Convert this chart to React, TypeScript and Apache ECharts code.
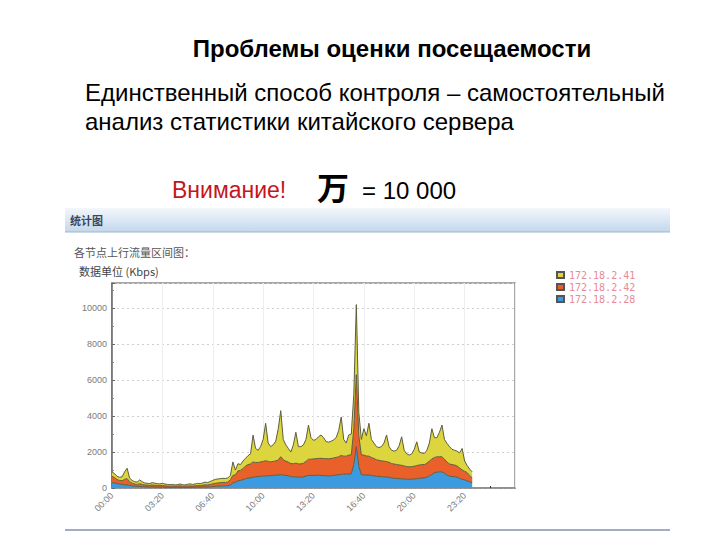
import React, { useEffect, useRef } from "react";
import * as echarts from "echarts";

// Time slots every 10 minutes; axis runs to 26:40 (as in the screenshot), data to 23:50
const stepMinutes = 10;
const axisSlots = 161;
const seriesNames = ["172.18.2.28", "172.18.2.42", "172.18.2.41"];
const legendOrder = ["172.18.2.41", "172.18.2.42", "172.18.2.28"];
const yTicks = [0, 2000, 4000, 6000, 8000, 10000];

// Blue layer (172.18.2.28), Kbps
const blueValues = [
  300, 280, 250, 220, 200, 180, 170, 150, 120, 100,
  90, 90, 80, 70, 60, 60, 60, 50, 50, 50,
  50, 40, 40, 40, 40, 40, 40, 40, 40, 40,
  40, 40, 40, 50, 50, 50, 60, 60, 60, 70,
  80, 90, 100, 110, 120, 120, 130, 180, 280, 330,
  400, 420, 460, 520, 550, 560, 600, 620, 640, 650,
  660, 670, 680, 690, 700, 710, 720, 740, 720, 700,
  680, 640, 620, 620, 600, 600, 620, 660, 700, 700,
  700, 700, 710, 700, 690, 680, 670, 680, 700, 720,
  740, 760, 770, 770, 780, 790, 1300, 2300, 1200, 740,
  730, 720, 720, 700, 680, 650, 640, 630, 620, 610,
  600, 560, 540, 530, 520, 510, 500, 490, 480, 490,
  500, 520, 540, 550, 560, 600, 680, 750, 850, 880,
  900, 900, 820, 720, 660, 640, 630, 600, 540, 480,
  450, 400, 340, 300,
];

// Orange layer (172.18.2.42), Kbps
const orangeValues = [
  350, 300, 220, 200, 200, 300, 350, 200, 150, 120,
  110, 150, 120, 100, 100, 90, 110, 100, 90, 80,
  90, 80, 70, 60, 70, 60, 70, 80, 60, 60,
  70, 80, 70, 70, 90, 80, 100, 120, 110, 130,
  150, 170, 180, 190, 190, 190, 200, 280, 420, 400,
  550, 560, 620, 700, 750, 780, 850, 800, 780, 800,
  820, 850, 800, 760, 780, 800, 830, 1000, 850, 800,
  760, 720, 730, 760, 740, 740, 760, 820, 900, 900,
  920, 930, 940, 950, 950, 950, 960, 960, 970, 980,
  1000, 1050, 1000, 1000, 1050, 1050, 2000, 4000, 1700, 1100,
  1100, 1060, 1050, 1000, 960, 920, 900, 880, 870, 860,
  830, 800, 790, 780, 760, 750, 720, 700, 700, 700,
  710, 730, 740, 750, 740, 780, 820, 860, 850, 850,
  840, 840, 780, 720, 680, 660, 650, 620, 580, 520,
  480, 460, 360, 250,
];

// Yellow layer (172.18.2.41), Kbps
const yellowValues = [
  250, 220, 180, 180, 220, 420, 580, 200, 150, 130,
  130, 210, 150, 110, 100, 100, 130, 120, 100, 100,
  120, 100, 90, 80, 90, 70, 80, 100, 80, 70,
  100, 110, 90, 100, 120, 110, 120, 150, 130, 160,
  190, 220, 220, 220, 230, 220, 230, 240, 750, 270,
  400, 320, 420, 430, 500, 560, 1490, 780, 680, 850,
  1220, 2080, 1020, 850, 920, 1090, 1750, 2560, 1130, 900,
  760, 640, 1050, 1720, 960, 960, 1020, 1220, 1900, 1200,
  1030, 1070, 1200, 1300, 1160, 950, 920, 960, 1010, 1100,
  1460, 2140, 930, 730, 1120, 1160, 1900, 3900, 1300, 860,
  1470, 1120, 1830, 1000, 860, 730, 710, 790, 1010, 1480,
  870, 740, 720, 790, 1070, 1590, 880, 710, 650, 710,
  940, 1320, 720, 650, 620, 720, 1000, 1690, 1100, 1070,
  1360, 1760, 1100, 1040, 960, 850, 820, 830, 830, 1200,
  570, 390, 350, 350,
];

const layerColors = ["#3c9be0", "#e9602b", "#dcd53e"];
const outlineColor = "#5e5d3e";

function fmtTime(m: number): string {
  const h = Math.floor(m / 60);
  const mm = m % 60;
  return String(h).padStart(2, "0") + ":" + String(mm).padStart(2, "0");
}

export default function App() {
  const ref = useRef<HTMLDivElement>(null);

  useEffect(() => {
    if (!ref.current) return;
    const chart = echarts.init(ref.current, undefined, { renderer: "svg" });
    const layers = [blueValues, orangeValues, yellowValues];
    const categories: string[] = [];
    for (let i = 0; i < axisSlots; i++) categories.push(fmtTime(i * stepMinutes));

    const option: echarts.EChartsOption = {
      animation: false,
      backgroundColor: "#ffffff",
      textStyle: { fontFamily: "Liberation Sans, Arial, sans-serif" },
      grid: {
        left: 112,
        top: 283,
        width: 403,
        height: 205,
        show: true,
        borderColor: "#8a8a8a",
        borderWidth: 1.5,
        backgroundColor: "#ffffff",
      },
      legend: {
        data: legendOrder,
        orient: "vertical",
        left: 551,
        top: 265,
        itemWidth: 7,
        itemHeight: 6,
        itemGap: 2,
        icon: "rect",
        textStyle: { fontSize: 10, color: "#e98a97", fontFamily: "DejaVu Sans Mono, monospace" },
      },
      xAxis: {
        type: "category",
        data: categories,
        boundaryGap: false,
        axisLine: { show: true, lineStyle: { color: "#8a8a8a", width: 1.5 } },
        axisTick: { show: true, inside: true, length: 2, interval: 9, lineStyle: { color: "#333" } },
        splitLine: { show: true, interval: 19, lineStyle: { color: "#eeeeee", width: 1 } },
        axisLabel: {
          interval: 19,
          rotate: 45,
          fontSize: 9,
          color: "#7a7a7a",
          margin: 6,
          showMaxLabel: false,
        },
      },
      yAxis: {
        type: "value",
        min: 0,
        max: 11400,
        interval: 2000,
        axisLine: { show: true, lineStyle: { color: "#6a6a6a", width: 1.5 } },
        axisTick: { show: true, inside: true, length: 3, lineStyle: { color: "#666" } },
        minorTick: { show: true, splitNumber: 2, length: 2, lineStyle: { color: "#888" } },
        splitLine: { show: true, lineStyle: { color: "#cfcfcf", type: [2, 3], width: 1 } },
        axisLabel: {
          fontSize: 9,
          color: "#7a7a7a",
          margin: 5,
          showMaxLabel: false,
          formatter: (v: number) => (yTicks.includes(v) ? String(v) : ""),
        },
      },
      series: layers.map((vals, idx) => ({
        name: seriesNames[idx],
        type: "line",
        stack: "total",
        data: vals,
        symbol: "none",
        showSymbol: false,
        color: layerColors[idx],
        lineStyle: { color: outlineColor, width: 1 },
        areaStyle: { color: layerColors[idx], opacity: 1 },
        itemStyle: { color: layerColors[idx], borderColor: "#555", borderWidth: 0.5 },
      })),
      graphic: [
        {
          type: "text",
          x: 392,
          y: 48,
          style: {
            text: "Проблемы оценки посещаемости",
            fontSize: 24,
            fontWeight: "bold",
            fontFamily: "Liberation Sans, Arial, sans-serif",
            fill: "#000",
            align: "center",
            verticalAlign: "middle",
          },
        },
        {
          type: "text",
          x: 85,
          y: 92,
          style: {
            text: "Единственный способ контроля – самостоятельный",
            fontSize: 24,
            fontFamily: "Liberation Sans, Arial, sans-serif",
            fill: "#000",
            align: "left",
            verticalAlign: "middle",
          },
        },
        {
          type: "text",
          x: 85,
          y: 121,
          style: {
            text: "анализ статистики китайского сервера",
            fontSize: 24,
            fontFamily: "Liberation Sans, Arial, sans-serif",
            fill: "#000",
            align: "left",
            verticalAlign: "middle",
          },
        },
        {
          type: "text",
          x: 172,
          y: 190,
          style: {
            text: "Внимание!",
            fontSize: 23,
            fontFamily: "Liberation Sans, Arial, sans-serif",
            fill: "#c4161c",
            align: "left",
            verticalAlign: "middle",
          },
        },
        {
          type: "text",
          x: 317,
          y: 186,
          style: {
            text: "万",
            fontSize: 32,
            fontWeight: "bold",
            fontFamily: "Noto Sans CJK SC, sans-serif",
            fill: "#000",
            align: "left",
            verticalAlign: "middle",
          },
        },
        {
          type: "text",
          x: 362,
          y: 190,
          style: {
            text: "= 10 000",
            fontSize: 24,
            fontFamily: "Liberation Sans, Arial, sans-serif",
            fill: "#000",
            align: "left",
            verticalAlign: "middle",
          },
        },
        {
          type: "rect",
          z: -1,
          shape: { x: 65, y: 208, width: 605, height: 24 },
          style: {
            fill: new echarts.graphic.LinearGradient(0, 0, 0, 1, [
              { offset: 0, color: "#f3f7fc" },
              { offset: 1, color: "#c3d7ec" },
            ]),
          },
        },
        {
          type: "line",
          shape: { x1: 65, y1: 232, x2: 670, y2: 232 },
          style: { stroke: "#9fb6d0", lineWidth: 1 },
        },
        {
          type: "text",
          x: 70,
          y: 220,
          style: {
            text: "统计图",
            fontSize: 11,
            fontWeight: "bold",
            fontFamily: "Noto Sans CJK SC, sans-serif",
            fill: "#3a4660",
            align: "left",
            verticalAlign: "middle",
          },
        },
        {
          type: "text",
          x: 74,
          y: 252,
          style: {
            text: "各节点上行流量区间图：",
            fontSize: 11,
            fontFamily: "Noto Sans CJK SC, sans-serif",
            fill: "#555",
            align: "left",
            verticalAlign: "middle",
          },
        },
        {
          type: "text",
          x: 79,
          y: 271,
          style: {
            text: "数据单位 (Kbps)",
            fontSize: 11,
            fontFamily: "Noto Sans CJK SC, sans-serif",
            fill: "#444",
            align: "left",
            verticalAlign: "middle",
          },
        },
        {
          type: "line",
          shape: { x1: 65, y1: 530, x2: 670, y2: 530 },
          style: { stroke: "#7f93ab", lineWidth: 1.5 },
        },
      ],
    };

    chart.setOption(option);
    return () => chart.dispose();
  }, []);

  return (
    <div
      ref={ref}
      style={{ position: "fixed", left: 0, top: 0, width: 720, height: 540 }}
    />
  );
}
